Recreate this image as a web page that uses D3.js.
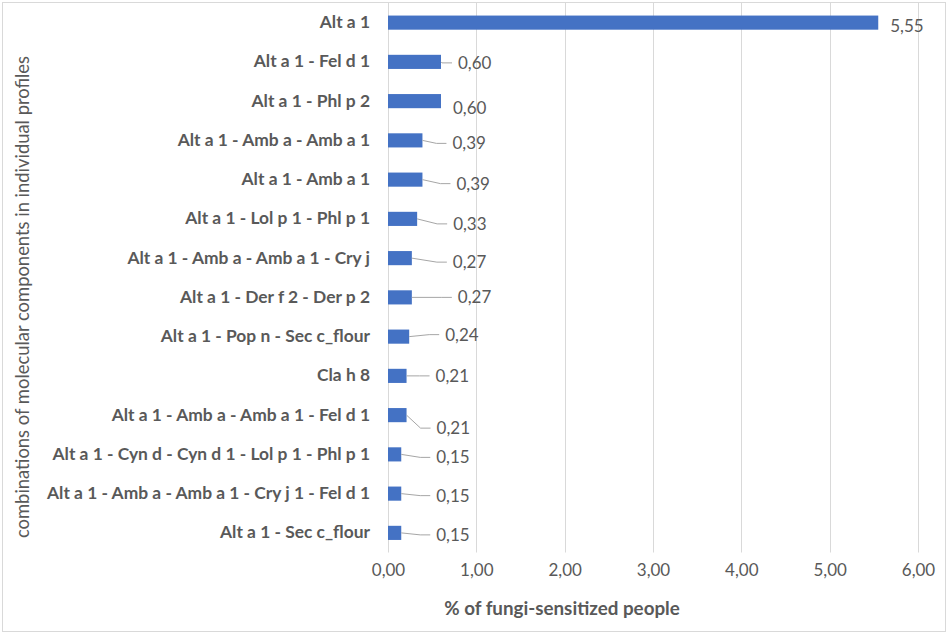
<!DOCTYPE html>
<html>
<head>
<meta charset="utf-8">
<script src="https://cdn.jsdelivr.net/npm/d3@7"></script>
<style>
  html, body { margin: 0; padding: 0; background: #fff; }
  svg { display: block; font-family: Lato, "Open Sans", sans-serif; }
</style>
</head>
<body>
<svg id="chart" width="948" height="634"></svg>
<script>
// ---- data ----
const categories = [
  "Alt a 1",
  "Alt a 1 - Fel d 1",
  "Alt a 1 - Phl p 2",
  "Alt a 1 - Amb a - Amb a 1",
  "Alt a 1 - Amb a 1",
  "Alt a 1 - Lol p 1 - Phl p 1",
  "Alt a 1 - Amb a - Amb a 1 - Cry j",
  "Alt a 1 - Der f 2 - Der p 2",
  "Alt a 1 - Pop n - Sec c_flour",
  "Cla h 8",
  "Alt a 1 - Amb a - Amb a 1 - Fel d 1",
  "Alt a 1 - Cyn d - Cyn d 1 - Lol p 1 - Phl p 1",
  "Alt a 1 - Amb a - Amb a 1 - Cry j 1 - Fel d 1",
  "Alt a 1 - Sec c_flour"
];
const values = [5.55, 0.60, 0.60, 0.39, 0.39, 0.33, 0.27, 0.27, 0.24, 0.21, 0.21, 0.15, 0.15, 0.15];
const xTicks = [0, 1, 2, 3, 4, 5, 6];
const xTitle = "% of fungi-sensitized people";
const yTitle = "combinations of molecular components in individual profiles";

// data-label placement (offset from bar end / bar centre, in px) as in the original
const labelDx = [12, 17, 12, 30, 34, 36, 41, 46, 36, 29, 30, 35, 35, 35];
const labelDy = [3, 1, 7, 3, 4, 5, 4, 0, -2, 0, 13, 3, 2, 2];
const hasLeader = [false, true, false, true, true, true, true, true, true, true, true, true, true, true];

// ---- drawing ----
const W = 948, H = 634;
const svg = d3.select("#chart");
const textColor = "#595959";
const fmt = v => d3.format(".2f")(v).replace(".", ",");

const x = d3.scaleLinear().domain([0, 6]).range([388, 918]);
const y = d3.scaleBand().domain(categories).range([3, 552.5]).paddingInner(0.64).paddingOuter(0.32);

// chart border
svg.append("rect")
  .attr("x", 2.5).attr("y", 2.5).attr("width", W - 5).attr("height", H - 5)
  .attr("fill", "#fff").attr("stroke", "#D9D9D9").attr("stroke-width", 1);

// gridlines
svg.append("g").selectAll("line").data(xTicks).join("line")
  .attr("x1", d => Math.round(x(d)) + 0.5).attr("x2", d => Math.round(x(d)) + 0.5)
  .attr("y1", 3).attr("y2", 552.5)
  .attr("stroke", "#D9D9D9").attr("stroke-width", 1);

// x axis tick labels
const xAxis = d3.axisBottom(x).tickValues(xTicks).tickFormat(fmt).tickSize(0).tickPadding(0);
const gx = svg.append("g").attr("transform", "translate(0,566)").call(xAxis);
gx.select(".domain").remove();
gx.selectAll("text").attr("fill", textColor).attr("font-size", 17)
  .attr("font-family", "Lato, 'Open Sans', sans-serif").attr("dy", "0.6em");

// y axis category labels
const yAxis = d3.axisLeft(y).tickSize(0).tickPadding(0);
const gy = svg.append("g").attr("transform", "translate(370,0)").call(yAxis);
gy.select(".domain").remove();
gy.selectAll("text").attr("fill", textColor).attr("font-size", 17.4).attr("font-weight", "bold")
  .attr("font-family", "Lato, 'Open Sans', sans-serif");

// bars
const rows = categories.map((c, i) => ({ c, v: values[i], i }));
svg.append("g").selectAll("rect").data(rows).join("rect")
  .attr("x", x(0)).attr("y", d => y(d.c))
  .attr("width", d => x(d.v) - x(0)).attr("height", y.bandwidth())
  .attr("fill", "#4472C4");

// leader lines
svg.append("g").selectAll("path").data(rows.filter(d => hasLeader[d.i])).join("path")
  .attr("d", d => {
    const x0 = x(d.v), y0 = y(d.c) + y.bandwidth() / 2;
    const lx = x0 + labelDx[d.i], ly = y0 + labelDy[d.i];
    return `M${x0},${y0}L${lx - 16},${ly}L${lx - 6},${ly}`;
  })
  .attr("fill", "none").attr("stroke", "#A6A6A6").attr("stroke-width", 1);

// value labels
svg.append("g").selectAll("text").data(rows).join("text")
  .attr("x", d => x(d.v) + labelDx[d.i])
  .attr("y", d => y(d.c) + y.bandwidth() / 2 + labelDy[d.i])
  .attr("dy", "0.35em")
  .attr("fill", textColor).attr("font-size", 17)
  .text(d => fmt(d.v));

// axis titles
svg.append("text").attr("x", 562).attr("y", 608).attr("dy", "0.35em")
  .attr("text-anchor", "middle").attr("fill", textColor)
  .attr("font-size", 18.8).attr("font-weight", "bold").text(xTitle);

svg.append("text").attr("transform", "translate(23,297) rotate(-90)").attr("dy", "0.35em")
  .attr("text-anchor", "middle").attr("fill", textColor)
  .attr("font-size", 18.4).text(yTitle);
</script>
</body>
</html>
